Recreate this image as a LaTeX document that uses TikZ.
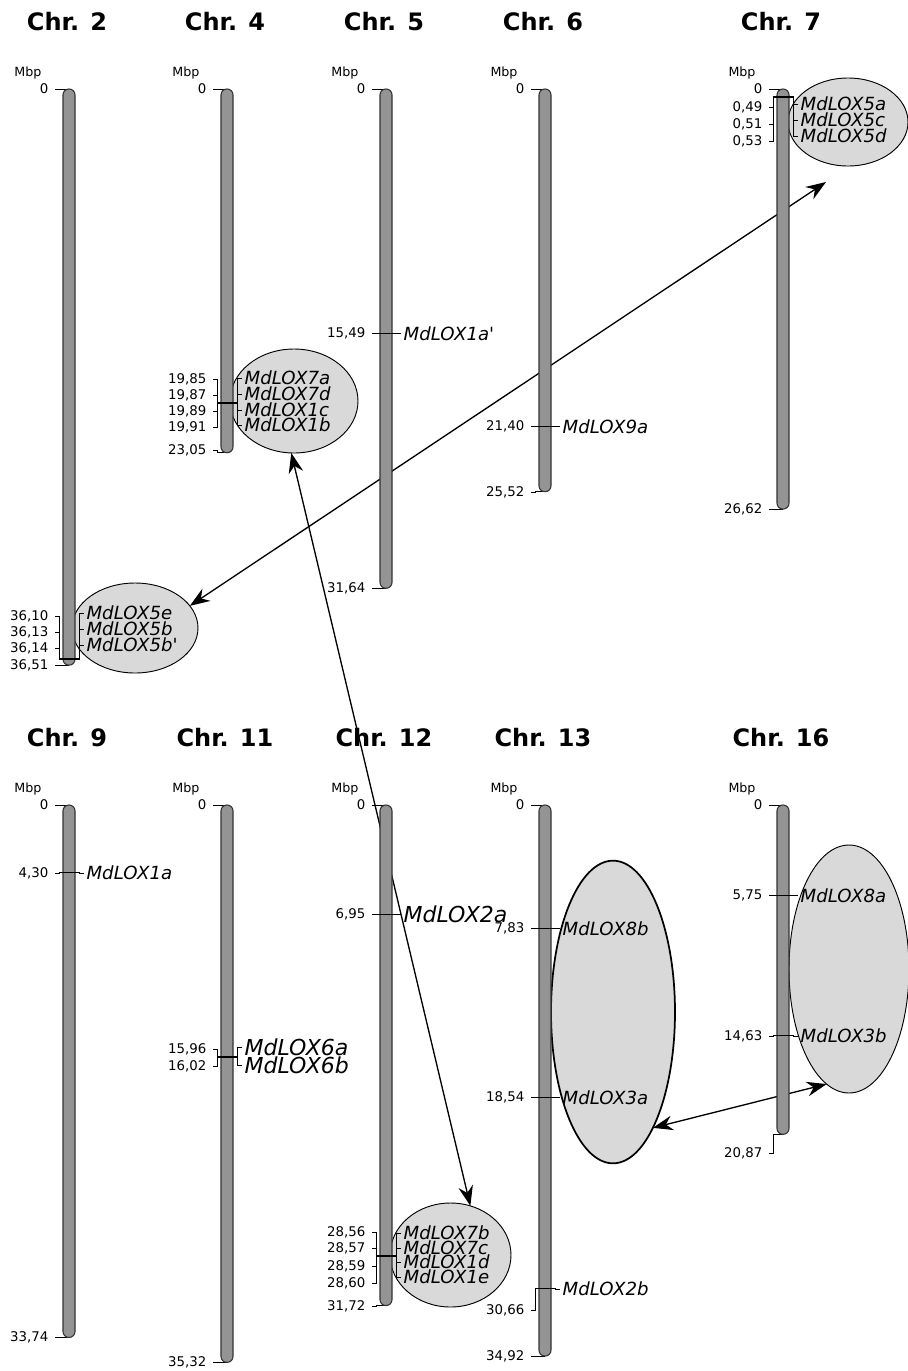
\documentclass[tikz,border=0pt]{standalone}
\usepackage{fontspec}
\setmainfont{DejaVu Sans}
\usetikzlibrary{arrows.meta,shapes.geometric}

\tikzset{
  chrom/.style={draw=black!80, fill=black!42, line width=0.8pt, rounded corners=4.4pt},
  cluster/.style={ellipse, draw, fill=black!15, line width=0.7pt, inner sep=0pt, outer sep=0pt},
  chrname/.style={font=\fontsize{18}{18}\selectfont\bfseries},
  unitlbl/.style={font=\fontsize{9.5}{10}\selectfont},
  poslbl/.style={font=\fontsize{10}{10}\selectfont, anchor=east, inner sep=1pt},
  genelbl/.style={font=\fontsize{13.6}{13.6}\selectfont\itshape, anchor=west, inner sep=1pt},
  biglbl/.style={font=\fontsize{16.5}{16.5}\selectfont\itshape, anchor=west, inner sep=1pt},
  tickln/.style={line width=0.6pt},
  dup/.style={{Stealth[length=15pt,width=11pt,inset=5pt]}-{Stealth[length=15pt,width=11pt,inset=5pt]}, line width=1pt},
}

\begin{document}
\begin{tikzpicture}[x=0.75pt, y=-0.75pt]

\def\pxmb{15.78}

\useasboundingbox (0,0) rectangle (907,1371);

% gene clusters
\node[cluster, minimum width=96pt, minimum height=78pt] (clu4) at (294,401) {};
\node[cluster, minimum width=90pt, minimum height=66pt] (clu7) at (848,122) {};
\node[cluster, minimum width=94.5pt, minimum height=67.5pt] (clu2) at (135,628) {};
\node[cluster, minimum width=90.75pt, minimum height=78pt] (clu12) at (450.5,1255) {};
\node[cluster, line width=1.3pt, minimum width=93pt, minimum height=227pt] (clu13) at (613,1012) {};
\node[cluster, minimum width=90pt, minimum height=186pt] (clu16) at (849,969) {};

% duplications
\coordinate (end7) at (826,182);
\draw[dup] (clu4.267) -- (clu12.68);
\draw[dup] (clu2.22) -- (end7);
\draw[dup] (clu13.289) -- (clu16.259);

% chromosomes
\foreach \nm/\cx/\ytop/\len/\lab/\ly in {
  2/69/89/36.51/{36,51}/665, 4/227/89/23.05/{23,05}/450,
  5/386/89/31.64/{31,64}/588, 6/545/89/25.52/{25,52}/492,
  7/783/89/26.62/{26,62}/509,
  9/69/805/33.74/{33,74}/1337, 11/227/805/35.32/{35,32}/1362,
  12/386/805/31.72/{31,72}/1306, 13/545/805/34.92/{34,92}/1356,
  16/783/805/20.87/{20,87}/1153}
{
  \node[chrname] (n\nm) at (\cx-2, \ytop-67) {Chr. \nm};
  \node[unitlbl] (u\nm) at (\cx-41, \ytop-16) {Mbp};
  \node[poslbl] (z\nm) at (\cx-19, \ytop) {0};
  \node[poslbl] (e\nm) at (\cx-19, \ly) {\lab};
  \draw[tickln] (\cx-14, \ytop) -- (\cx, \ytop);
  \draw[tickln] (\cx-14, \ly) -- (\cx-10, \ly) -- (\cx-10, {\ytop+\pxmb*\len}) -- (\cx, {\ytop+\pxmb*\len});
  \draw[chrom] (\cx-6, \ytop) rectangle (\cx+6, {\ytop+\pxmb*\len});
}

% genes
\foreach \cx/\ytop/\p/\t/\ly/\gy/\g/\s [count=\i] in {
  69/89/36.10/{36,10}/616/613/MdLOX5e/genelbl,
  69/89/36.13/{36,13}/632/629/MdLOX5b/genelbl,
  69/89/36.14/{36,14}/648/645/MdLOX5b\textquotesingle/genelbl,
  227/89/19.85/{19,85}/379/378/MdLOX7a/genelbl,
  227/89/19.87/{19,87}/395/394/MdLOX7d/genelbl,
  227/89/19.89/{19,89}/411/410/MdLOX1c/genelbl,
  227/89/19.91/{19,91}/427/425/MdLOX1b/genelbl,
  386/89/15.49/{15,49}/333.4/333.4/MdLOX1a\textquotesingle/genelbl,
  545/89/21.40/{21,40}/426.7/426.7/MdLOX9a/genelbl,
  783/89/0.49/{0,49}/107/104/MdLOX5a/genelbl,
  783/89/0.51/{0,51}/124/120/MdLOX5c/genelbl,
  783/89/0.53/{0,53}/141/136/MdLOX5d/genelbl,
  69/805/4.30/{4,30}/872.9/872.9/MdLOX1a/genelbl,
  227/805/15.96/{15,96}/1049/1047/MdLOX6a/biglbl,
  227/805/16.02/{16,02}/1066/1065/MdLOX6b/biglbl,
  386/805/6.95/{6,95}/914.7/914.7/MdLOX2a/biglbl,
  386/805/28.56/{28,56}/1232/1233/MdLOX7b/genelbl,
  386/805/28.57/{28,57}/1248/1248/MdLOX7c/genelbl,
  386/805/28.59/{28,59}/1266/1262/MdLOX1d/genelbl,
  386/805/28.60/{28,60}/1283/1277/MdLOX1e/genelbl,
  545/805/7.83/{7,83}/928.6/928.6/MdLOX8b/genelbl,
  545/805/18.54/{18,54}/1097.6/1097.6/MdLOX3a/genelbl,
  545/805/30.66/{30,66}/1310/1289/MdLOX2b/genelbl,
  783/805/5.75/{5,75}/895.7/895.7/MdLOX8a/genelbl,
  783/805/14.63/{14,63}/1035.9/1035.9/MdLOX3b/genelbl}
{
  \draw[tickln] (\cx-14, \ly) -- (\cx-10, \ly) -- (\cx-10, {\ytop+\pxmb*\p})
    -- (\cx+10, {\ytop+\pxmb*\p}) -- (\cx+10, \gy) -- (\cx+15, \gy);
  \node[poslbl] (pos\i) at (\cx-19, \ly) {\t};
  \node[\s] (gene\i) at (\cx+16, \gy) {\g};
}

\end{tikzpicture}
\end{document}
